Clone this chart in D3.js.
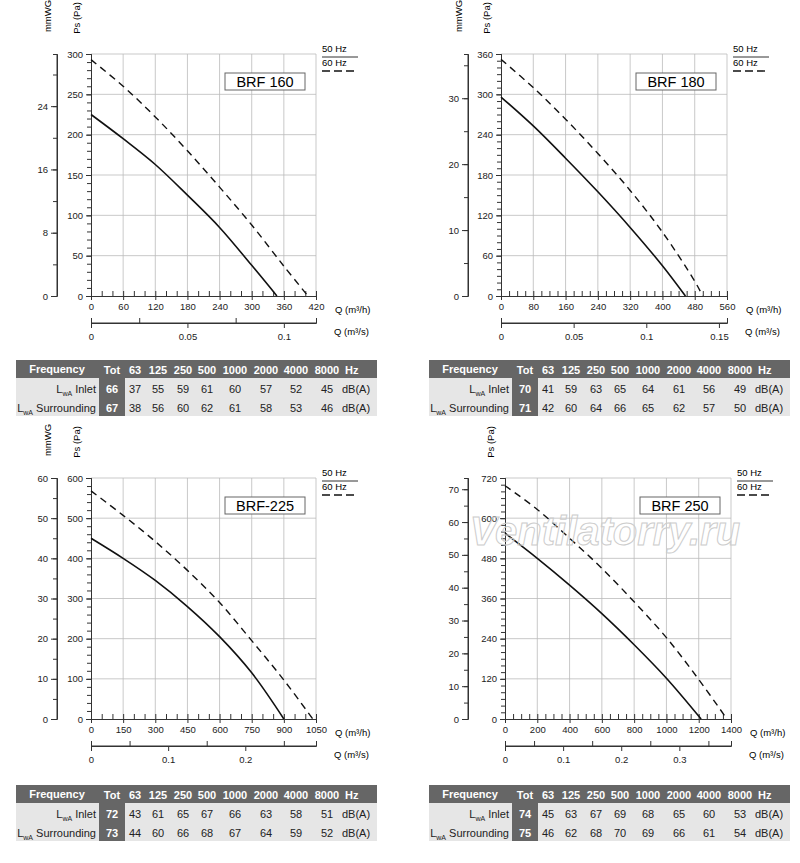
<!DOCTYPE html>
<html><head><meta charset="utf-8">
<script src="https://cdn.jsdelivr.net/npm/d3@7"></script>
<style>body{margin:0;background:#fff}svg{font-family:"Liberation Sans",Arial,sans-serif}</style>
</head><body><svg id="c" width="800" height="863"></svg>
<script>
// ---- data ----
const bandLabels = ["63","125","250","500","1000","2000","4000","8000"];
const models = ["BRF 160","BRF 180","BRF-225","BRF 250"];
const q160 = [0,60,120,180,240,300,347], p160_50 = [225,195,163,125,85,38,0];
const q160d = [0,60,120,180,240,300,360,405], p160_60 = [293,260,222,180,135,88,37,0];
const q180 = [0,80,160,240,320,400,457], p180_50 = [296,253,205,155,102,45,0];
const q180d = [0,80,160,240,320,400,480,500], p180_60 = [352,310,263,212,157,95,22,0];
const q225 = [0,150,300,450,600,750,900], p225_50 = [450,400,345,280,205,115,0];
const q225d = [0,150,300,450,600,750,900,1035], p225_60 = [568,507,442,370,290,195,97,0];
const q250 = [0,200,400,600,800,1000,1215], p250_50 = [555,480,400,315,222,122,0];
const q250d = [0,200,400,600,800,1000,1200,1375], p250_60 = [697,626,540,450,350,243,118,0];
const inlet160=[37,55,59,61,60,57,52,45], surr160=[38,56,60,62,61,58,53,46], tot160=[66,67];
const inlet180=[41,59,63,65,64,61,56,49], surr180=[42,60,64,66,65,62,57,50], tot180=[70,71];
const inlet225=[43,61,65,67,66,63,58,51], surr225=[44,60,66,68,67,64,59,52], tot225=[72,73];
const inlet250=[45,63,67,69,68,65,60,53], surr250=[46,62,68,70,69,66,61,54], tot250=[74,75];

const svg = d3.select("#c");
const DARK="#666";

function panel(o){
  const g = svg.append("g").attr("transform",`translate(${o.ox},${o.oy})`);
  const x0=91, w=o.w, yT=o.yT, yB=o.yB;
  const x = d3.scaleLinear().domain([0,o.qMax]).range([x0,x0+w]);
  const y = d3.scaleLinear().domain([0,o.pMax]).range([yB,yT]);
  const ym = d3.scaleLinear().domain([0,o.mMax]).range([yB,yT]);
  const xs = d3.scaleLinear().domain([0,o.qMax/3600]).range([x0,x0+w]);
  g.append("g").selectAll("line").data(d3.range(o.pStep,o.pMax+1,o.pStep)).join("line")
    .attr("x1",x0).attr("x2",x0+w).attr("y1",d=>y(d)).attr("y2",d=>y(d)).attr("stroke","#bbb").attr("stroke-width",0.8);
  g.append("g").selectAll("line").data(d3.range(o.qStep,o.qMax+1,o.qStep)).join("line")
    .attr("y1",yT).attr("y2",yB).attr("x1",d=>x(d)).attr("x2",d=>x(d)).attr("stroke","#bbb").attr("stroke-width",0.8);
  const ay = g.append("g").attr("transform",`translate(${x0},0)`)
    .call(d3.axisLeft(y).tickValues(d3.range(0,o.pMax+1,o.pStep)).tickSize(5).tickFormat(d3.format("d")));
  ay.append("g").call(d3.axisLeft(y).tickValues(d3.range(0,o.pMax+1,o.pMinor)).tickSize(4).tickFormat(""));
  const am = g.append("g").attr("transform",`translate(${o.mx},0)`)
    .call(d3.axisLeft(ym).tickValues(d3.range(0,o.mMax+0.01,o.mStep)).tickSize(6).tickFormat(d3.format("d")));
  am.append("g").call(d3.axisLeft(ym).tickValues(d3.range(0,o.mMax+0.01,o.mMinor)).tickSize(4).tickFormat(""));
  am.select(".domain").attr("d",`M0,${yT}V${yB}`);
  const ax = g.append("g").attr("transform",`translate(0,${yB})`)
    .call(d3.axisBottom(x).tickValues(d3.range(0,o.qMax+1,o.qStep)).tickSize(4).tickFormat(d3.format("d")));
  ax.append("g").call(d3.axisTop(x).tickValues(d3.range(0,o.qMax+1,o.qMinor)).tickSize(5).tickFormat(""));
  const sy = yB+27;
  const as = g.append("g").attr("transform",`translate(0,${sy})`)
    .call(d3.axisBottom(xs).tickValues(o.sTicks).tickSize(5).tickFormat(d=>d===0?"0":String(d)));
  as.append("g").call(d3.axisTop(xs).tickValues(o.sMinor).tickSize(5).tickFormat(""));
  as.select(".domain").attr("d",`M${x0},0H${x0+w}`);
  as.selectAll("text").attr("dy","0.9em");
  [ay,am,ax,as].forEach(a=>{a.selectAll("text").attr("font-size",9.5).attr("fill","#222").attr("font-family","Liberation Sans");a.selectAll("line,path").attr("stroke","#333");});
  g.append("text").attr("x",x0+w+19).attr("y",yB+17).attr("font-size",9.5).text("Q (m³/h)");
  g.append("text").attr("x",x0+w+18).attr("y",sy+12).attr("font-size",9.5).text("Q (m³/s)");
  if(o.mTitle) g.append("text").attr("transform",`translate(${o.mx-6},${yT-38}) rotate(-90)`).attr("text-anchor","middle").attr("font-size",9.5).text("mmWG");
  g.append("text").attr("transform",`translate(${x0-11},${yT-36}) rotate(-90)`).attr("text-anchor","middle").attr("font-size",9.5).text("Ps (Pa)");
  const line = d3.line().x(d=>x(d[0])).y(d=>y(d[1])).curve(d3.curveCatmullRom.alpha(0.5));
  g.append("path").attr("d",line(d3.zip(o.qa,o.pa))).attr("fill","none").attr("stroke","#111").attr("stroke-width",1.6);
  g.append("path").attr("d",line(d3.zip(o.qb,o.pb))).attr("fill","none").attr("stroke","#111").attr("stroke-width",1.4).attr("stroke-dasharray","7,5");
  const lx = x0+w+6;
  g.append("text").attr("x",lx).attr("y",yT-2).attr("font-size",9.5).text("50 Hz");
  g.append("line").attr("x1",lx).attr("x2",lx+36).attr("y1",yT+3).attr("y2",yT+3).attr("stroke","#333");
  g.append("text").attr("x",lx).attr("y",yT+12).attr("font-size",9.5).text("60 Hz");
  g.append("line").attr("x1",lx).attr("x2",lx+36).attr("y1",yT+17).attr("y2",yT+17).attr("stroke","#111").attr("stroke-width",1.4).attr("stroke-dasharray","8,4");
  g.append("rect").attr("x",x0+w-91).attr("y",yT+19).attr("width",80).attr("height",17).attr("fill","#fff").attr("stroke","#666");
  g.append("text").attr("x",x0+w-51).attr("y",yT+33).attr("text-anchor","middle").attr("font-size",14.5).text(o.title);
  const tx=o.tx, ty=o.ty, tw=361;
  const t = g.append("g").attr("transform",`translate(${tx},${ty})`);
  t.append("rect").attr("width",tw).attr("height",56).attr("fill","#e6e6e6");
  t.append("rect").attr("width",tw).attr("height",18).attr("fill",DARK);
  t.append("rect").attr("x",83).attr("width",26).attr("height",56).attr("fill",DARK);
  t.append("text").attr("x",41).attr("y",13).attr("text-anchor","middle").attr("fill","#fff").attr("font-weight","bold").attr("font-size",11).text("Frequency");
  const cols=[119,142,167,191,219,250,280,311];
  t.append("text").attr("x",96).attr("y",14).attr("text-anchor","middle").attr("fill","#fff").attr("font-weight","bold").attr("font-size",11).text("Tot");
  t.selectAll(".h").data(bandLabels).join("text").attr("x",(d,i)=>cols[i]).attr("y",14).attr("text-anchor","middle").attr("fill","#fff").attr("font-weight","bold").attr("font-size",11).text(d=>d);
  t.append("text").attr("x",329).attr("y",14).attr("fill","#fff").attr("font-weight","bold").attr("font-size",11).text("Hz");
  [[o.inlet,"Inlet",o.tot[0]],[o.surr,"Surrounding",o.tot[1]]].forEach(([vals,lab,tot],r)=>{
    const yy = 33+r*19;
    const lt = t.append("text").attr("x",80).attr("y",yy).attr("text-anchor","end").attr("font-size",11).attr("fill","#222");
    lt.append("tspan").text("L");
    lt.append("tspan").attr("font-size",7).attr("dy",3).text("wA");
    lt.append("tspan").attr("dy",-3).text(" "+lab);
    t.append("text").attr("x",96).attr("y",yy).attr("text-anchor","middle").attr("fill","#fff").attr("font-weight","bold").attr("font-size",11).text(tot);
    t.selectAll(".v"+r).data(vals).join("text").attr("x",(d,i)=>cols[i]).attr("y",yy).attr("text-anchor","middle").attr("font-size",11).attr("fill","#222").text(d=>d);
    t.append("text").attr("x",326).attr("y",yy).attr("font-size",11).attr("fill","#222").text("dB(A)");
  });
  return g;
}

panel({ox:0,oy:0,w:225,yT:54,yB:296,qMax:420,qStep:60,qMinor:20,pMax:300,pStep:50,pMinor:10,mx:57,mMax:300/9.80665,mStep:8,mMinor:4,mTitle:true,
  sTicks:[0,0.05,0.1],sMinor:[0.025,0.075],qa:q160,pa:p160_50,qb:q160d,pb:p160_60,title:models[0],tx:16,ty:360,inlet:inlet160,surr:surr160,tot:tot160});
panel({ox:410,oy:0,w:226,yT:54,yB:296,qMax:560,qStep:80,qMinor:20,pMax:360,pStep:60,pMinor:10,mx:58,mMax:360/9.80665,mStep:10,mMinor:5,mTitle:true,
  sTicks:[0,0.05,0.1,0.15],sMinor:[],qa:q180,pa:p180_50,qb:q180d,pb:p180_60,title:models[1],tx:19,ty:360,inlet:inlet180,surr:surr180,tot:tot180});
panel({ox:0,oy:440,w:225,yT:38,yB:279,qMax:1050,qStep:150,qMinor:50,pMax:600,pStep:100,pMinor:20,mx:57,mMax:60,mStep:10,mMinor:5,mTitle:true,
  sTicks:[0,0.1,0.2],sMinor:[0.05,0.15,0.25],qa:q225,pa:p225_50,qb:q225d,pb:p225_60,title:models[2],tx:16,ty:345,inlet:inlet225,surr:surr225,tot:tot225});
panel({ox:414,oy:440,w:226,yT:38,yB:279,qMax:1400,qStep:200,qMinor:50,pMax:720,pStep:120,pMinor:20,mx:54,mMax:720/9.80665,mStep:10,mMinor:5,mTitle:false,
  sTicks:[0,0.1,0.2,0.3],sMinor:[0.05,0.15,0.25,0.35],qa:q250,pa:p250_50,qb:q250d,pb:p250_60,title:models[3],tx:15,ty:345,inlet:inlet250,surr:surr250,tot:tot250});
svg.append("text").attr("x",605).attr("y",545).attr("text-anchor","middle").attr("font-size",40).attr("font-style","italic").attr("font-weight","bold")
  .attr("fill","none").attr("stroke","#ccc").attr("stroke-width",1).text("Ventilatorry.ru");
</script></body></html>
